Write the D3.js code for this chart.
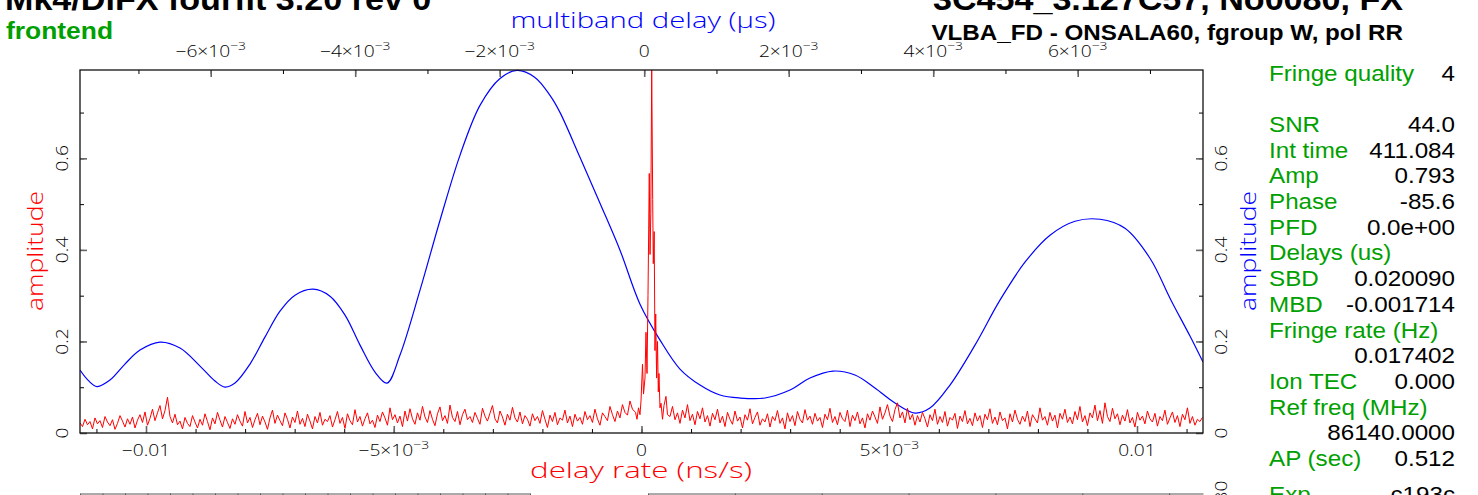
<!DOCTYPE html>
<html>
<head>
<meta charset="utf-8">
<script src="https://cdn.jsdelivr.net/npm/d3@7"></script>
<style>
  html, body { margin: 0; padding: 0; background: #fff; overflow: hidden; }
  svg { display: block; font-family: "Liberation Sans", Arial, sans-serif; }
  .thin { font-family: "Open Sans", "Lato", "Liberation Sans", sans-serif; font-weight: 300; }
</style>
</head>
<body>
<svg id="fringe" width="1478" height="495"></svg>
<script>
// delay rate spectrum (red), amplitudes in 1/1000, sampled on a regular rate grid
const rateStart = -0.011332
const rateStep = 0.00005045
const noiseLeft = [
  22,14,30,18,25,9,33,20,27,12,36,24,16,29,8,21,38,26,13,31,
  19,35,11,28,40,23,46,17,32,52,27,44,60,31,49,78,36,22,41,18,
  26,9,34,21,14,38,24,11,30,17,42,25,7,33,20,45,28,13,36,23,
  10,31,19,40,26,15,47,22,34,12,29,43,18,37,24,8,33,50,21,39,
  27,16,44,30,11,35,23,48,19,32,14,41,26,9,36,22,45,17,30,25,
  38,13,29,47,21,34,10,42,27,18,51,24,36,15,31,44,20,28,12,39,
  25,46,33,17,55,29,40,22,37,14,48,26,53,31,19,44,28,58,35,23,
  49,30,16,42,57,27,38,21,61,34,25,47,18,40,52,29,36,23,45,32,
  19,54,37,26,43,60,31,22,48,35,17,41,28,56,33,24,46,20,38,30,
  15,42,27,36,21,49,30,12,39,25,45,18,33,28,50,22,37,14,41,26,
  34,19,47,29,38,23,52,31,17,44,36,27,58,40,25,48,33,62,45,39,70,52
]
// the fringe peak, read point by point
const peakRate = [-0.000121,-0.0000908,-0.0000605,-0.0000303,-0.0000101,0.0000202,0.0000404,0.0000706,
  0.0000908,0.000111,0.000131,0.000157,0.000172,0.000188,0.000206,0.000226,0.000238,0.000256,0.000272,
  0.000287,0.000305,0.000323,0.000339,0.000353,0.000373,0.000394,0.000424,0.000454,0.000494,0.000525]
const peakAmp = [0.045,0.030,0.055,0.040,0.070,0.150,0.085,0.120,
  0.220,0.130,0.300,0.567,0.390,0.480,0.793,0.510,0.370,0.440,0.180,
  0.260,0.120,0.200,0.090,0.130,0.055,0.065,0.030,0.060,0.080,0.040]
const rightStart = 0.000575
const noiseRight = [
  36,58,29,44,21,50,33,62,27,41,18,47,31,55,24,38,15,43,29,52,
  22,37,14,45,30,19,48,26,35,11,40,28,53,20,34,46,17,31,24,42,
  13,36,27,49,21,33,9,44,25,38,16,47,30,22,51,28,37,19,43,26,
  34,12,41,29,54,23,36,18,45,31,25,50,14,39,27,46,20,33,11,42,
  28,48,35,21,57,30,44,62,37,25,51,66,33,46,22,54,29,41,17,38,
  24,45,31,13,40,27,52,19,36,23,47,15,34,28,43,10,37,25,49,20,
  32,16,44,26,38,12,41,29,53,21,35,18,46,27,33,9,42,24,50,30,
  19,37,25,48,14,40,31,22,55,28,36,17,45,26,39,11,43,30,52,23,
  35,20,47,29,58,24,38,16,44,33,61,27,49,21,66,36,25,54,31,42,
  18,39,26,51,22,34,13,45,28,37,20,48,31,24,43,15,36,27,50,19,
  33,46,23,38,14,41,29,55,21,36,17,30,25,34
]

// multiband delay function (blue)
const mbdDelay = [-0.007809,-0.007699,-0.007574,-0.007394,-0.007187,-0.006979,-0.006702,-0.006425,
  -0.006148,-0.005941,-0.005802,-0.005664,-0.005456,-0.005249,-0.005041,-0.004833,-0.004584,-0.004349,
  -0.004141,-0.003933,-0.003726,-0.003560,-0.003380,-0.003103,-0.002826,-0.002550,-0.002273,-0.001996,
  -0.001761,-0.001512,-0.001304,-0.001166,-0.000889,-0.000612,-0.000335,-0.0000581,0.000219,0.000495,
  0.000772,0.001049,0.001326,0.001672,0.002018,0.002294,0.002613,0.002917,0.003194,0.003471,0.003748,
  0.003955,0.004232,0.004578,0.004924,0.005270,0.005616,0.005962,0.006308,0.006654,0.007000,0.007291,
  0.007554,0.007734]
const mbdAmp = [0.1375,0.1156,0.1014,0.1156,0.1506,0.1811,0.1986,0.1855,
  0.1462,0.1135,0.1004,0.1091,0.1506,0.2095,0.2662,0.3011,0.3142,0.2989,
  0.2575,0.1920,0.1331,0.1091,0.1702,0.3120,0.4648,0.6066,0.7157,0.7746,
  0.7921,0.7768,0.7375,0.7004,0.6022,0.5019,0.3993,0.2815,0.2030,0.1396,
  0.1047,0.0829,0.0764,0.0764,0.0938,0.1200,0.1353,0.1266,0.0982,0.0655,0.0436,
  0.0545,0.1047,0.1920,0.2902,0.3731,0.4320,0.4626,0.4669,0.4473,0.3818,0.2902,
  0.2117,0.1549]

const rateTicks = [-0.01, -0.005, 0, 0.005, 0.01]
const delayTicks = [-0.006, -0.004, -0.002, 0, 0.002, 0.004, 0.006]
const ampTicks = [0, 0.2, 0.4, 0.6]

const infoLabels = ["Fringe quality","SNR","Int time","Amp","Phase","PFD","Delays (us)","SBD","MBD",
  "Fringe rate (Hz)","","Ion TEC","Ref freq (MHz)","","AP (sec)","Exp"]
const infoValues = ["4","44.0","411.084","0.793","-85.6","0.0e+00","","0.020090","-0.001714",
  "","0.017402","0.000","","86140.0000","0.512","c193c"]
const infoRows = [0,2,3,4,5,6,7,8,9,10,11,12,13,14,15,16.4]

const GREEN = "#00a000"
const svg = d3.select("#fringe")
const L = 80, R = 1203, T = 70, B = 433

let x = d3.scaleLinear().domain([-0.011332, 0.011332]).range([L, R])
let x2 = d3.scaleLinear().domain([-0.007809, 0.007734]).range([L, R])
let y = d3.scaleLinear().domain([0, 0.793]).range([B, T])

// text with a horizontal stretch, the plot fonts are wider than Arial
function label(sel, str, px, py, o) {
  o = o || {}
  return sel.append("text")
    .attr("class", o.thin ? "thin" : null)
    .attr("transform", `translate(${px},${py})` + (o.rot ? ` rotate(${o.rot})` : "") + ` scale(${o.sx || 1},1)`)
    .attr("text-anchor", o.anchor || "start")
    .attr("font-size", o.size || 16)
    .attr("font-weight", o.bold ? "bold" : null)
    .attr("fill", o.fill || "#000")
    .text(str)
}
function sciLabel(t, v) {
  if (v === 0) { t.text("0"); return }
  let s = v < 0 ? "\u2212" : ""
  let a = Math.abs(v)
  if (a > 0.0099) { t.text(s + d3.format(".2~f")(a)); return }
  t.text(s + Math.round(a * 1000) + "\u00d710")
  t.append("tspan").attr("dy", -7).attr("font-size", "0.72em").text("\u22123")
}

// titles
label(svg, "Mk4/DiFX fourfit 3.20 rev 0", 5, 9.5, {size: 31, bold: true, sx: 1.1})
label(svg, "3C454_3.127C57, No0080, FX", 1403, 9.5, {size: 31, bold: true, sx: 1.1, anchor: "end"})
label(svg, "frontend", 6, 39, {size: 24, bold: true, sx: 1.1, fill: GREEN})
label(svg, "VLBA_FD - ONSALA60, fgroup W, pol RR", 1403, 40, {size: 22, bold: true, sx: 1.1, anchor: "end"})

// curves
svg.append("clipPath").attr("id", "plotclip")
  .append("rect").attr("x", L).attr("y", T - 1).attr("width", R - L).attr("height", B - T + 1)

let redData = noiseLeft.map((v, i) => [rateStart + i * rateStep, v / 1000])
  .concat(peakRate.map((r, i) => [r, peakAmp[i]]))
  .concat(noiseRight.map((v, i) => [rightStart + i * rateStep, v / 1000]))
let blueData = mbdDelay.map((d, i) => [d, mbdAmp[i]])

let plot = svg.append("g").attr("clip-path", "url(#plotclip)")
plot.append("path").datum(blueData)
  .attr("fill", "none").attr("stroke", "#0000ff").attr("stroke-width", 1.2)
  .attr("d", d3.line().x(d => x2(d[0])).y(d => y(d[1])).curve(d3.curveCatmullRom.alpha(0.5)))
plot.append("path").datum(redData)
  .attr("fill", "none").attr("stroke", "#ff0000").attr("stroke-width", 1)
  .attr("d", d3.line().x(d => x(d[0])).y(d => y(d[1])))

// axes, ticks pointing into the frame
function ticks(axis, tx, ty, vals, size, color, width) {
  let g = svg.append("g").attr("transform", `translate(${tx},${ty})`)
    .call(axis.tickValues(vals).tickSize(size).tickSizeOuter(0).tickFormat(""))
  g.select(".domain").remove()
  g.selectAll("line").attr("stroke", color).attr("stroke-width", width)
  return g
}
let rateMinor = d3.range(-11, 12).map(i => i * 0.001)
let delayMinor = d3.range(-7, 8).map(i => i * 0.001)
let ampMinor = d3.range(0, 8).map(i => i * 0.1)
ticks(d3.axisTop(x), 0, B, rateMinor, 4, "#000", 1)
ticks(d3.axisTop(x), 0, B, rateTicks, 7, "#666", 1.6)
ticks(d3.axisBottom(x2), 0, T, delayMinor, 4, "#000", 1)
ticks(d3.axisBottom(x2), 0, T, delayTicks, 7, "#666", 1.6)
ticks(d3.axisRight(y), L, 0, ampMinor, 4, "#000", 1)
ticks(d3.axisRight(y), L, 0, ampTicks, 7, "#666", 1.6)
ticks(d3.axisLeft(y), R, 0, ampMinor, 4, "#000", 1)
ticks(d3.axisLeft(y), R, 0, ampTicks, 7, "#666", 1.6)

svg.append("rect").attr("x", L).attr("y", T).attr("width", R - L).attr("height", B - T)
  .attr("fill", "none").attr("stroke", "#111").attr("stroke-width", 1.3)

// tick labels
rateTicks.forEach(v => sciLabel(label(svg, "", x(v), 456, {size: 16, sx: 1.2, anchor: "middle", thin: true}), v))
delayTicks.forEach(v => sciLabel(label(svg, "", x2(v), 56.5, {size: 16, sx: 1.2, anchor: "middle", thin: true}), v))
ampTicks.forEach(v => {
  label(svg, d3.format("~g")(v), 68, y(v), {size: 16, sx: 1.2, anchor: "middle", rot: -90, thin: true})
  label(svg, d3.format("~g")(v), 1227, y(v), {size: 16, sx: 1.2, anchor: "middle", rot: -90, thin: true})
})

// axis titles
label(svg, "delay rate (ns/s)", 641, 478, {size: 22, anchor: "middle", fill: "#ff0000", thin: true})
  .attr("textLength", 222).attr("lengthAdjust", "spacingAndGlyphs")
label(svg, "multiband delay (\u03bcs)", 643, 28, {size: 22, anchor: "middle", fill: "#0000ff", thin: true})
  .attr("textLength", 265).attr("lengthAdjust", "spacingAndGlyphs")
label(svg, "amplitude", 43, 251, {size: 22, anchor: "middle", fill: "#ff0000", rot: -90, thin: true})
  .attr("textLength", 120).attr("lengthAdjust", "spacingAndGlyphs")
label(svg, "amplitude", 1256, 251, {size: 22, anchor: "middle", fill: "#0000ff", rot: -90, thin: true})
  .attr("textLength", 120).attr("lengthAdjust", "spacingAndGlyphs")

// fringe summary
infoLabels.forEach((s, i) => {
  let by = 80.5 + infoRows[i] * 25.7
  if (s) label(svg, s, 1269, by, {size: 22, sx: 1.1, fill: GREEN})
  if (infoValues[i]) label(svg, infoValues[i], 1455, by, {size: 22, sx: 1.1, anchor: "end"})
})

// top of the next panel, cut off by the page edge
let sx1 = d3.scaleLinear().domain([0, 20]).range([L, 530])
let sx2 = d3.scaleLinear().domain([0, 6.39]).range([648, R])
;[[sx1, d3.range(0, 21)], [sx2, d3.range(0, 7)]].forEach(([s, v]) => {
  let g = svg.append("g").attr("transform", `translate(0,493.5)`)
    .call(d3.axisBottom(s).tickValues(v).tickSize(4).tickSizeOuter(0).tickFormat(""))
  g.selectAll("line, path").attr("stroke", "#555")
})
label(svg, "180", 1227, 497, {size: 16, sx: 1.2, anchor: "middle", rot: -90, thin: true})
</script>
</body>
</html>
